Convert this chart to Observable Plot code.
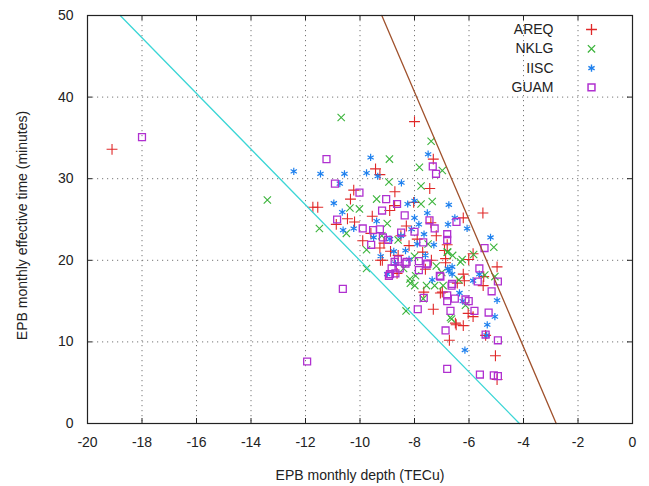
<!DOCTYPE html>
<html>
<head>
<meta charset="utf-8">
<script src="https://cdn.jsdelivr.net/npm/d3@7"></script>
<script src="https://cdn.jsdelivr.net/npm/@observablehq/plot@0.6"></script>
<style>
  html, body { margin: 0; padding: 0; background: #fff; }
  #chart { width: 649px; height: 486px; }
</style>
</head>
<body>
<div id="chart"></div>
<script>
const seriesNames = ["AREQ", "NKLG", "IISC", "GUAM"];
const xTicks = [-20, -18, -16, -14, -12, -10, -8, -6, -4, -2, 0];
const yTicks = [0, 10, 20, 30, 40, 50];
const xTitle = "EPB monthly depth (TECu)";
const yTitle = "EPB monthly effective time (minutes)";

// [depth, time] pairs
const areq = [[-19.1,33.6],[-8.0,37.0],[-7.31,32.4],[-9.43,31.2],[-9.27,30.5],[-7.44,28.8],[-10.23,28.6],[-10.35,27.5],[-8.72,28.4],[-11.73,26.5],[-11.55,26.5],[-10.87,24.4],[-10.46,25.1],[-8.73,26.7],[-8.03,27.1],[-5.49,25.8],[-6.21,25.2],[-9.55,25.4],[-8.91,26.1],[-10.2,24.7],[-7.4,24.6],[-9.12,22.1],[-9.27,21.5],[-6.9,21.2],[-8.88,21.1],[-9.18,20.0],[-7.38,20.0],[-9.25,20.0],[-8.64,18.4],[-7.66,16.1],[-7.05,16.0],[-7.31,14.0],[-6.72,10.2],[-5.03,8.3],[-4.97,5.4],[-5.39,10.8],[-6.47,12.1],[-6.21,12.0],[-6.03,13.5],[-5.85,13.1],[-5.48,16.9],[-4.97,19.2],[-6.01,20.1],[-5.85,20.8],[-6.21,18.3],[-6.43,17.2],[-6.86,19.7],[-6.86,20.2],[-6.8,21.9],[-6.98,16.1],[-6.17,17.5],[-5.46,18.0],[-6.5,12.3],[-8.5,23.0],[-8.2,21.8],[-7.9,22.6],[-8.6,20.6],[-7.7,21.0],[-9.6,23.3],[-8.3,24.2],[-7.6,18.9],[-9.9,22.4],[-7.2,23.0]];
const nklg = [[-10.69,37.5],[-7.39,34.6],[-8.92,32.4],[-7.82,31.4],[-6.98,31.0],[-8.94,29.6],[-7.76,29.1],[-9.39,27.5],[-7.35,27.2],[-13.4,27.4],[-10.37,26.4],[-10.02,26.3],[-7.76,26.9],[-11.49,23.9],[-10.5,23.3],[-6.78,21.0],[-9.76,19.0],[-8.31,13.8],[-6.64,12.8],[-6.13,14.5],[-5.42,18.2],[-5.09,21.6],[-5.83,20.7],[-6.25,20.1],[-5.05,18.0],[-6.31,19.8],[-6.37,17.6],[-7.99,16.9],[-7.56,16.9],[-7.26,16.9],[-6.95,16.9],[-7.68,15.3],[-8.15,17.2],[-7.96,18.1],[-8.17,17.7],[-9.76,21.3],[-6.8,21.0],[-6.6,20.6],[-6.68,13.0],[-8.6,22.5],[-8.0,20.5],[-7.5,22.0],[-9.0,24.5],[-7.2,19.3],[-8.4,19.0],[-9.2,23.0],[-7.0,18.5]];
const iisc = [[-12.43,30.9],[-11.45,30.6],[-10.57,30.6],[-10.74,29.4],[-10.96,27.0],[-10.65,25.9],[-10.62,23.7],[-9.61,32.6],[-7.5,33.0],[-9.76,30.7],[-9.35,30.3],[-8.48,29.5],[-8.0,27.3],[-8.25,26.9],[-6.74,26.8],[-7.53,25.8],[-6.52,25.2],[-8.0,25.2],[-9.39,24.8],[-7.84,24.4],[-6.77,24.4],[-6.07,23.9],[-5.21,22.8],[-10.23,23.9],[-8.11,23.8],[-7.65,23.2],[-7.29,21.9],[-9.24,20.5],[-8.76,21.1],[-8.33,21.2],[-6.78,19.0],[-6.62,18.3],[-6.74,18.7],[-6.62,19.2],[-7.35,17.6],[-9.0,18.3],[-5.85,17.5],[-6.35,16.0],[-6.23,15.0],[-4.97,15.1],[-5.05,13.1],[-5.33,12.1],[-5.35,10.8],[-6.15,9.0],[-5.62,18.3],[-8.9,22.6],[-8.5,23.0],[-7.9,22.0],[-8.2,20.1],[-9.5,22.8],[-7.6,20.6],[-8.7,19.6]];
const guam = [[-18.0,35.1],[-11.23,32.4],[-10.92,29.4],[-7.33,31.5],[-7.21,30.6],[-10.02,28.3],[-9.04,27.5],[-8.64,26.9],[-9.19,26.1],[-8.36,25.5],[-10.84,25.0],[-9.9,23.9],[-7.45,24.9],[-6.46,24.7],[-9.52,23.7],[-9.27,23.8],[-7.26,23.9],[-6.8,23.2],[-6.8,22.5],[-8.97,22.5],[-9.16,22.8],[-8.49,23.4],[-8.0,23.5],[-7.68,22.2],[-9.59,21.9],[-8.61,20.1],[-8.73,19.8],[-8.33,19.6],[-7.84,19.9],[-7.53,19.6],[-8.84,19.0],[-8.54,19.0],[-8.94,18.1],[-7.05,18.0],[-8.9,18.3],[-8.7,18.4],[-7.84,18.8],[-7.56,19.5],[-8.29,19.8],[-5.43,21.5],[-5.62,19.0],[-5.68,17.4],[-4.94,17.4],[-5.17,16.2],[-6.62,17.1],[-6.8,15.7],[-6.52,15.3],[-6.13,15.2],[-6.01,15.0],[-6.8,15.0],[-7.66,15.4],[-5.8,13.8],[-5.28,13.6],[-6.68,13.8],[-7.88,14.0],[-6.86,11.4],[-5.39,10.9],[-4.94,10.2],[-6.8,6.7],[-5.6,6.0],[-5.09,5.9],[-4.94,5.8],[-10.63,16.5],[-11.94,7.6],[-6.64,16.9],[-7.07,18.1]];

const cyanLine = [[-18.8, 50], [-4.15, 0]];
const brownLine = [[-9.2, 50], [-2.8, 0]];

const seriesData = [areq, nklg, iisc, guam];
const seriesSymbols = ["plus", "times", "asterisk", "square"];
const seriesColors = ["#e02828", "#3cb43c", "#1e80ee", "#b030d0"];
const seriesR = [3.6, 3.4, 3.4, 3.9];
const seriesSW = [1.1, 1.1, 1.2, 1.3];

const textColor = "#222";
const fontFamily = "'Liberation Sans', Arial, sans-serif";
const plotW = 649 - 87 - 17, plotH = 486 - 15 - 63;

const pointMarks = seriesData.map((d, i) => Plot.dot(d, {
  x: p => p[0], y: p => p[1],
  symbol: seriesSymbols[i], stroke: seriesColors[i], r: seriesR[i], strokeWidth: seriesSW[i]
}));

const legendRows = seriesNames.map((name, i) => ({name, i}));
const legendMarks = legendRows.flatMap((row) => [
  Plot.text([row], {text: d => d.name, frameAnchor: "top-right", dx: -79, dy: 14 + 19.3 * row.i,
    textAnchor: "end", lineAnchor: "middle", fill: textColor, fontSize: 14}),
  Plot.dot([row], {x: null, y: null, frameAnchor: "top-right", dx: -41, dy: 14 + 19.3 * row.i,
    symbol: seriesSymbols[row.i], stroke: seriesColors[row.i], fill: "none",
    r: seriesR[row.i], strokeWidth: seriesSW[row.i] + 0.2})
]);

const tickStyle = {stroke: "#222", strokeWidth: 1};

const chart = Plot.plot({
  width: 649, height: 486,
  marginLeft: 87, marginRight: 17, marginTop: 15, marginBottom: 63,
  x: {domain: [-20, 0]},
  y: {domain: [0, 50]},
  style: {fontFamily, fontSize: "14px", color: textColor, background: "#fff", overflow: "visible"},
  marks: [
    Plot.gridX(xTicks.slice(1, -1), {stroke: "#777", strokeOpacity: 1, strokeDasharray: "1.2,3.8"}),
    Plot.gridY(yTicks.slice(1, -1), {stroke: "#777", strokeOpacity: 1, strokeDasharray: "1.2,3.8"}),
    Plot.axisX(xTicks, {anchor: "bottom", tickSize: 0, tickPadding: 14, label: null, fontSize: 14, fill: textColor, tickFormat: d => String(d)}),
    Plot.axisY(yTicks, {anchor: "left", tickSize: 0, tickPadding: 14, label: null, fontSize: 14, fill: textColor, tickFormat: d => String(d)}),
    Plot.tickX(xTicks, {x: d => d, insetTop: plotH - 5, ...tickStyle}),
    Plot.tickX(xTicks, {x: d => d, insetBottom: plotH - 5, ...tickStyle}),
    Plot.tickY(yTicks, {y: d => d, insetRight: plotW - 5, ...tickStyle}),
    Plot.tickY(yTicks, {y: d => d, insetLeft: plotW - 5, ...tickStyle}),
    ...pointMarks,
    Plot.line(cyanLine, {x: d => d[0], y: d => d[1], stroke: "#3cd6d6", strokeWidth: 1.3}),
    Plot.line(brownLine, {x: d => d[0], y: d => d[1], stroke: "#a0522d", strokeWidth: 1.3}),
    Plot.frame({stroke: "#222", strokeWidth: 1.2}),
    ...legendMarks,
    Plot.text([xTitle], {text: d => d, frameAnchor: "bottom", dy: 52, lineAnchor: "middle", textAnchor: "middle", fontSize: 14, fill: textColor}),
    Plot.text([yTitle], {text: d => d, frameAnchor: "left", dx: -65, dy: 6, rotate: -90, lineAnchor: "middle", textAnchor: "middle", fontSize: 14, fill: textColor})
  ]
});
document.getElementById("chart").appendChild(chart);
</script>
</body>
</html>
